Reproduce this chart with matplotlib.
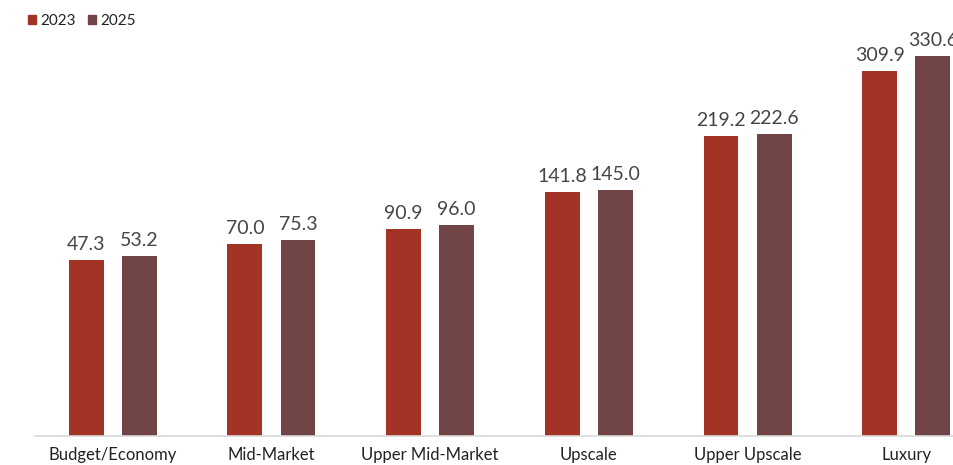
import matplotlib
matplotlib.use("Agg")
import matplotlib.pyplot as plt
import numpy as np
from matplotlib.patches import Patch

categories = ["Budget/Economy", "Mid-Market", "Upper Mid-Market", "Upscale", "Upper Upscale", "Luxury"]
series_names = ["2023", "2025"]
values_2023 = [47.3, 70.0, 90.9, 141.8, 219.2, 309.9]
values_2025 = [53.2, 75.3, 96.0, 145.0, 222.6, 330.6]
colors = ["#A33324", "#714446"]

plt.rcParams['font.family'] = ['Lato', 'DejaVu Sans']

fig = plt.figure(figsize=(9.54, 4.65), dpi=100)
ax = fig.add_axes([35/954, 29/465, (984-35)/954, 436/465])

ymin, ymax = -197, 408.6
x = np.arange(len(categories))
w = 0.22
off = 0.167
text_color = "#454545"
for vals, dx, c in [(values_2023, -off, colors[0]), (values_2025, off, colors[1])]:
    v = np.array(vals)
    bars = ax.bar(x + dx, v - ymin, bottom=ymin, width=w, color=c, zorder=2)
    for b, val in zip(bars, vals):
        ax.annotate(f"{val:.1f}", (b.get_x() + b.get_width()/2, val), xytext=(0, 5),
                    textcoords="offset points", ha="center", va="bottom",
                    fontsize=14, color=text_color)

ax.set_xlim(-0.49, 5.49)
ax.set_ylim(ymin, ymax)
ax.set_yticks([])
ax.set_xticks(x)
ax.set_xticklabels(categories, fontsize=12, color="#222222")
ax.tick_params(axis='x', length=0, pad=8)
for s in ["top", "right", "left"]:
    ax.spines[s].set_visible(False)
ax.spines["bottom"].set_color("#d9d9d9")
ax.spines["bottom"].set_linewidth(1.2)

handles = [Patch(color=c, label=n) for c, n in zip(colors, series_names)]
fig.legend(handles=handles, loc="upper left", bbox_to_anchor=(0.015, 1.0), ncol=2,
           frameon=False, fontsize=11, handlelength=0.55, handleheight=0.55,
           handletextpad=0.25, columnspacing=0.8, labelcolor="#222222")

fig.savefig("out.png", dpi=100)
